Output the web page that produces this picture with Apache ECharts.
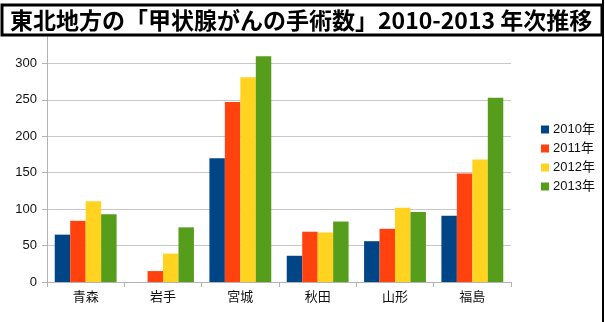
<!DOCTYPE html>
<html>
<head>
<meta charset="utf-8">
<script src="https://cdn.jsdelivr.net/npm/echarts@6/dist/echarts.min.js"></script>
<style>
html,body{margin:0;padding:0;background:#fff;}
#main{width:605px;height:322px;}
</style>
</head>
<body>
<div id="main"></div>
<script>
var titleText = '東北地方の「甲状腺がんの手術数」2010-2013 年次推移';
var categories = ['青森', '岩手', '宮城', '秋田', '山形', '福島'];
var seriesNames = ['2010年', '2011年', '2012年', '2013年'];
var values2010 = [65, 0, 170, 36, 56, 91];
var values2011 = [84, 15, 247, 69, 73, 149];
var values2012 = [111, 39, 281, 68, 102, 168];
var values2013 = [93, 75, 310, 83, 96, 253];
var colors = ['#004586', '#ff420e', '#ffd320', '#579d1c'];

var allValues = [values2010, values2011, values2012, values2013];
var chart = echarts.init(document.getElementById('main'), null, {renderer: 'canvas'});
var series = seriesNames.map(function (n, i) {
  return {
    name: n,
    type: 'bar',
    data: allValues[i],
    barGap: '0%',
    barCategoryGap: '20%',
    itemStyle: {color: colors[i]}
  };
});
chart.setOption({
  animation: false,
  backgroundColor: '#ffffff',
  textStyle: {fontFamily: '"Liberation Sans", "Noto Sans CJK JP", sans-serif'},
  grid: {left: 47, right: 94, top: 27, bottom: 40, containLabel: false},
  legend: {
    orient: 'vertical',
    left: 536,
    top: 118,
    itemWidth: 8,
    itemHeight: 8,
    itemGap: 6,
    icon: 'rect',
    textStyle: {fontSize: 13, color: '#111', padding: [0, 0, 0, -1], fontFamily: '"Liberation Sans", "Noto Sans CJK JP", sans-serif'},
    data: seriesNames
  },
  xAxis: {
    type: 'category',
    data: categories,
    axisLine: {lineStyle: {color: '#b3b3b3', width: 1}},
    axisTick: {show: true, length: 5, lineStyle: {color: '#b3b3b3'}},
    axisLabel: {fontSize: 13, color: '#111', margin: 8, fontFamily: '"Noto Sans CJK JP", sans-serif'}
  },
  yAxis: {
    type: 'value',
    min: 0,
    max: 350,
    interval: 50,
    axisLine: {show: true, lineStyle: {color: '#b3b3b3', width: 1}},
    axisTick: {show: true, length: 5, lineStyle: {color: '#b3b3b3'}},
    splitLine: {lineStyle: {color: '#c8c8c8', width: 1}},
    axisLabel: {fontSize: 13, color: '#111', margin: 10}
  },
  series: series,
  graphic: [
    {
      type: 'rect',
      z: 100,
      shape: {x: 2, y: 5, width: 600, height: 30},
      style: {fill: '#ffffff', stroke: '#000000', lineWidth: 3}
    },
    {
      type: 'text',
      z: 101,
      x: 10,
      y: 20,
      style: {
        text: titleText,
        fill: '#000',
        font: 'bold 23px "Noto Sans CJK JP", sans-serif',
        verticalAlign: 'middle'
      }
    },
    {
      type: 'line',
      z: 100,
      shape: {x1: 603, y1: 0, x2: 603, y2: 322},
      style: {stroke: '#000', lineWidth: 2}
    }
  ]
});
</script>
</body>
</html>
